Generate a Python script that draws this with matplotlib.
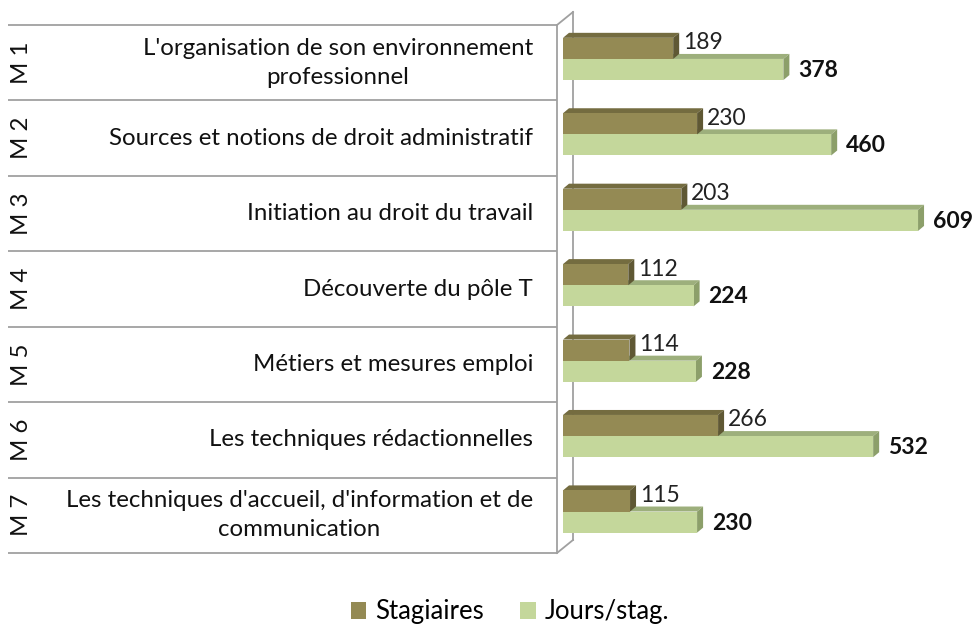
import matplotlib
matplotlib.use('Agg')
import matplotlib.pyplot as plt
from matplotlib.patches import Polygon, Patch
from matplotlib.lines import Line2D
from matplotlib.transforms import blended_transform_factory
import numpy as np

codes = ["M 1", "M 2", "M 3", "M 4", "M 5", "M 6", "M 7"]
modules = [
    "L'organisation de son environnement\nprofessionnel",
    "Sources et notions de droit administratif",
    "Initiation au droit du travail",
    "Découverte du pôle T",
    "Métiers et mesures emploi",
    "Les techniques rédactionnelles",
    "Les techniques d'accueil, d'information et de\ncommunication",
]
stagiaires = [189, 230, 203, 112, 114, 266, 115]
jours = [378, 460, 609, 224, 228, 532, 230]
series_names = ["Stagiaires", "Jours/stag."]

FONT = ['Lato', 'DejaVu Sans']
plt.rcParams['font.family'] = FONT

W, H = 973, 625
fig = plt.figure(figsize=(9.73, 6.25), dpi=100)

x0 = 563.0
ppu = 0.583
ax_top, ax_bot = 25.0, 553.0
ax_right = 973.0
ax = fig.add_axes([x0 / W, 1 - ax_bot / H, (ax_right - x0) / W, (ax_bot - ax_top) / H])
xmax = (ax_right - x0) / ppu
n = len(codes)
ax.set_xlim(0, xmax)
ax.set_ylim(n - 0.5, -0.5)
ax.axis('off')
row_px = (ax_bot - ax_top) / n

yc = np.arange(n)
h = 0.28
stag_y = yc - 0.19
jours_y = yc + 0.09
dx = 6 / ppu
dy = 5 / row_px

c_stag = dict(front='#948A54', top='#746C40', side='#5F5834')
c_jours = dict(front='#C4D79B', top='#9DAF7C', side='#8C9F6A')


def faces(c, v, col, z):
    yt = c - h / 2
    yb = c + h / 2
    top = Polygon([(0, yt), (v, yt), (v + dx, yt - dy), (dx, yt - dy)],
                  closed=True, facecolor=col['top'], edgecolor='none', zorder=z)
    side = Polygon([(v, yt), (v + dx, yt - dy), (v + dx, yb - dy), (v, yb)],
                   closed=True, facecolor=col['side'], edgecolor='none', zorder=z)
    ax.add_patch(top)
    ax.add_patch(side)


for c, v in zip(jours_y, jours):
    faces(c, v, c_jours, 2)
bars_j = ax.barh(jours_y, jours, height=h, color=c_jours['front'], zorder=3,
                 label=series_names[1])
for c, v in zip(stag_y, stagiaires):
    faces(c, v, c_stag, 4)
bars_s = ax.barh(stag_y, stagiaires, height=h, color=c_stag['front'], zorder=5,
                 label=series_names[0])

LBL = 16.5
for c, v in zip(stag_y, stagiaires):
    ax.annotate(str(v), (v, c - h / 2), xytext=(10, -5), textcoords='offset pixels',
                ha='left', va='center', fontsize=LBL, color='#222222', zorder=6)
for c, v in zip(jours_y, jours):
    ax.annotate(str(v), (v, c), xytext=(15, -1), textcoords='offset pixels',
                ha='left', va='center', fontsize=LBL, fontweight='bold',
                color='#111111', zorder=6)

gray = '#A0A0A0'
tr = blended_transform_factory(ax.transAxes, ax.transData)
xl = (8 - x0) / (ax_right - x0)
xr = (557 - x0) / (ax_right - x0)
ax.hlines(np.arange(n + 1) - 0.5, xl, xr, transform=tr, colors=gray,
          linewidth=1.3, clip_on=False, zorder=1)


def fl(xs, ys, z=1):
    fig.add_artist(Line2D([x / W for x in xs], [1 - y / H for y in ys],
                          color=gray, linewidth=1.3, zorder=z))


fl([557, 557], [25, 553])
fl([557, 573], [25, 12])
fl([573, 573], [12, 540], z=0)
fl([557, 573], [553, 540])

CAT = 17.3
for i in range(n):
    ax.text((21 - x0) / (ax_right - x0), i, codes[i], transform=tr, rotation=90,
            ha='center', va='center', fontsize=CAT, color='#111111')
    ax.text((533 - x0) / (ax_right - x0), i, modules[i], transform=tr,
            ha='right', va='center', multialignment='center', fontsize=CAT,
            color='#111111', linespacing=1.45)

handles = [Patch(facecolor=c_stag['front']), Patch(facecolor=c_jours['front'])]
fig.legend(handles, series_names, loc='center', bbox_to_anchor=(510 / W, 1 - 612 / H),
           ncol=2, frameon=False, fontsize=18.5, handlelength=0.6, handleheight=0.6,
           handletextpad=0.35, columnspacing=1.4)

fig.savefig('out.png', dpi=100)
